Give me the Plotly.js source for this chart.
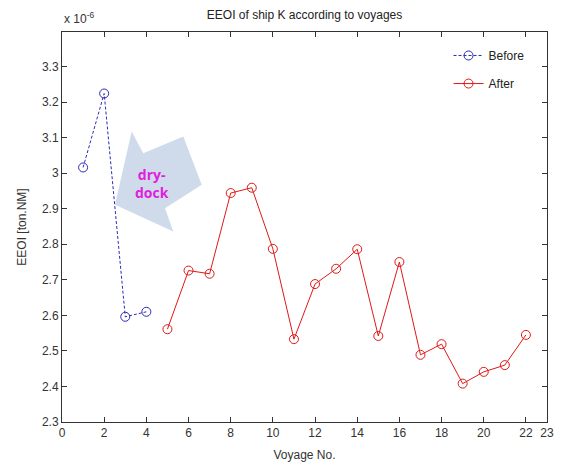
<!DOCTYPE html>
<html>
<head>
<meta charset="utf-8">
<script src="https://cdn.plot.ly/plotly-3.0.1.min.js"></script>
<style>html,body{margin:0;padding:0;background:#fff;}#chart{width:564px;height:466px;}</style>
</head>
<body>
<div id="chart"></div>
<script>
// Values in units of 1e-6 ton.NM
var beforeVoyages = [1, 2, 3, 4];
var beforeEEOI = [3.016, 3.224, 2.596, 2.610];
var afterVoyages = [5, 6, 7, 8, 9, 10, 11, 12, 13, 14, 15, 16, 17, 18, 19, 20, 21, 22];
var afterEEOI = [2.561, 2.726, 2.717, 2.944, 2.959, 2.787, 2.533, 2.688, 2.731, 2.786, 2.542, 2.750, 2.489, 2.519, 2.408, 2.441, 2.460, 2.545];
var xTickVals = [0, 2, 4, 6, 8, 10, 12, 14, 16, 18, 20, 22, 23];
var xTickText = ['0', '2', '4', '6', '8', '10', '12', '14', '16', '18', '20', '22', '23'];
var yTickVals = [2.3, 2.4, 2.5, 2.6, 2.7, 2.8, 2.9, 3.0, 3.1, 3.2, 3.3];
var yTickText = ['2.3', '2.4', '2.5', '2.6', '2.7', '2.8', '2.9', '3', '3.1', '3.2', '3.3'];

var font = 'Liberation Sans, Arial, sans-serif';
var traces = [
  {x: beforeVoyages, y: beforeEEOI, name: 'Before', type: 'scatter', mode: 'lines+markers',
   line: {color: '#2b2bb8', width: 1, dash: '3px,2px'},
   marker: {symbol: 'circle-open', size: 9, color: '#2b2bb8', line: {width: 1}}, legend: 'legend'},
  {x: afterVoyages, y: afterEEOI, name: 'After', type: 'scatter', mode: 'lines+markers',
   line: {color: '#e01818', width: 1},
   marker: {symbol: 'circle-open', size: 9, color: '#e01818', line: {width: 1}}, legend: 'legend2'}
];

var axisCommon = {showline: true, mirror: 'ticks', linecolor: '#333', linewidth: 1,
  ticks: 'inside', ticklen: 5, tickcolor: '#333', showgrid: false, zeroline: false,
  tickfont: {family: font, size: 12, color: '#333'}};

var layout = {
  width: 564, height: 466,
  margin: {l: 62, r: 17, t: 32, b: 44},
  paper_bgcolor: '#fff', plot_bgcolor: '#fff',
  font: {family: font, size: 12, color: '#333'},
  title: {text: 'EEOI of ship K according to voyages', font: {family: font, size: 12, color: '#222'},
          x: 0.54, xanchor: 'center', y: 0.968, yanchor: 'middle'},
  xaxis: Object.assign({}, axisCommon, {range: [0, 23], tickmode: 'array', tickvals: xTickVals, ticktext: xTickText,
          title: {text: 'Voyage No.', font: {family: font, size: 12, color: '#333'}, standoff: 11}}),
  yaxis: Object.assign({}, axisCommon, {range: [2.3, 3.397], tickmode: 'array', tickvals: yTickVals, ticktext: yTickText,
          title: {text: 'EEOI [ton.NM]', font: {family: font, size: 12, color: '#333'}, standoff: 12}}),
  showlegend: true,
  legend: {x: 0.797, y: 0.977, xanchor: 'left', yanchor: 'top', bgcolor: 'rgba(0,0,0,0)',
           font: {family: font, size: 12, color: '#222'}},
  legend2: {x: 0.797, y: 0.905, xanchor: 'left', yanchor: 'top', bgcolor: 'rgba(0,0,0,0)',
           font: {family: font, size: 12, color: '#222'}},
  shapes: [{type: 'path', xref: 'x', yref: 'y', layer: 'below',
    path: 'M 3.305 3.117 L 3.855 3.056 L 5.752 3.103 L 6.625 2.967 L 4.885 2.901 L 5.278 2.836 L 2.513 2.911 Z',
    fillcolor: '#cfdbea', line: {width: 0}}],
  annotations: [
    {xref: 'paper', yref: 'paper', x: 0, y: 1, xanchor: 'left', yanchor: 'bottom', yshift: 4, showarrow: false,
     text: 'x 10<sup>-6</sup>', font: {family: font, size: 12, color: '#333'}},
    {xref: 'x', yref: 'y', x: 4.25, y: 2.972, showarrow: false, align: 'center',
     text: '<b>dry-<br>dock</b>', font: {family: 'Open Sans, sans-serif', size: 14, color: '#e020e0'}}
  ]
};

Plotly.newPlot('chart', traces, layout, {displayModeBar: false, staticPlot: true});
</script>
</body>
</html>
